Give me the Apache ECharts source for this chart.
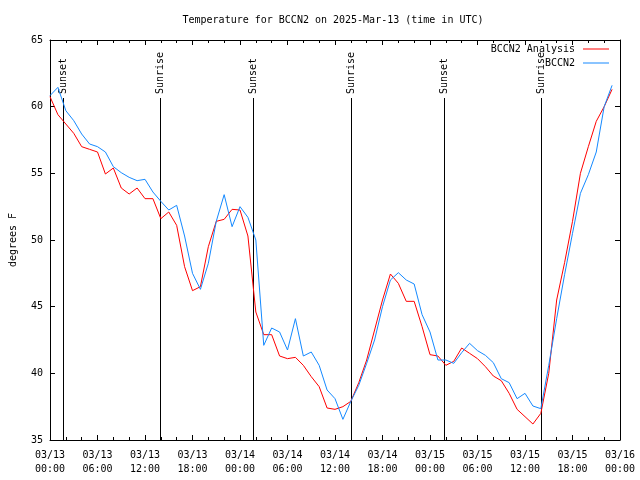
<!DOCTYPE html>
<html><head><meta charset="utf-8">
<script src="https://cdn.jsdelivr.net/npm/echarts@6/dist/echarts.min.js"></script>
<style>html,body{margin:0;padding:0;background:#fff}#c{width:640px;height:480px}</style>
</head><body><div id="c"></div>
<script>
const titleText = 'Temperature for BCCN2 on 2025-Mar-13 (time in UTC)';
const yAxisName = 'degrees F';
const seriesNames = ['BCCN2 Analysis', 'BCCN2'];
// hourly values, hour 0 = 03/13 00:00 UTC
const analysis = [
  60.75, 59.4, 58.7, 58.0, 57.0, 56.8, 56.6, 54.95, 55.4, 53.9, 53.45, 53.9,
  53.1, 53.1, 51.6, 52.1, 51.1, 48.0, 46.2, 46.5, 49.5, 51.4, 51.55, 52.3,
  52.25, 50.3, 44.6, 42.9, 42.9, 41.3, 41.1, 41.2, 40.6, 39.75, 39.0, 37.4,
  37.3, 37.5, 37.9, 39.3, 41.0, 43.25, 45.5, 47.45, 46.75, 45.4, 45.4, 43.5,
  41.4, 41.3, 40.6, 40.9, 41.9, 41.5, 41.1, 40.5, 39.8, 39.45, 38.5, 37.3,
  36.75, 36.2, 37.0, 40.0, 45.5, 48.3, 51.4, 55.0, 57.0, 58.9, 60.0, 61.3
];
const observed = [
  60.83, 61.45, 59.7, 58.95, 57.95, 57.2, 57.0, 56.6, 55.5, 55.05, 54.7, 54.45,
  54.55, 53.6, 52.9, 52.25, 52.6, 50.3, 47.5, 46.3, 48.25, 51.4, 53.4, 51.0,
  52.5, 51.7, 50.0, 42.1, 43.4, 43.1, 41.75, 44.1, 41.3, 41.6, 40.6, 38.75,
  38.1, 36.55, 37.9, 39.1, 40.75, 42.5, 45.0, 47.0, 47.55, 47.0, 46.7, 44.4,
  43.1, 41.0, 41.0, 40.75, 41.55, 42.25, 41.7, 41.35, 40.8, 39.6, 39.3, 38.1,
  38.5, 37.55, 37.35, 40.6, 44.1, 47.4, 50.5, 53.5, 54.9, 56.6, 60.0, 61.6
];
const xTickLabels = [
  '03/13\n00:00', '03/13\n06:00', '03/13\n12:00', '03/13\n18:00',
  '03/14\n00:00', '03/14\n06:00', '03/14\n12:00', '03/14\n18:00',
  '03/15\n00:00', '03/15\n06:00', '03/15\n12:00', '03/15\n18:00',
  '03/16\n00:00'
];
const sunTimes = [1.6, 13.87, 25.67, 37.97, 49.78, 61.97];
const sunLabels = ['Sunset', 'Sunrise', 'Sunset', 'Sunrise', 'Sunset', 'Sunrise'];
const yMin = 35, yMax = 65, yStep = 5;
const xMin = 0, xMax = 72, xStep = 6;

const FONT = 'DejaVu Sans Mono';
const chart = echarts.init(document.getElementById('c'), null, {renderer: 'canvas'});

function xAxisCfg(pos, showLabel) {
  return {
    type: 'value', position: pos, min: xMin, max: xMax, interval: xStep,
    axisLine: {show: true, onZero: false, lineStyle: {color: '#000', width: 1}},
    axisTick: {show: true, inside: true, length: 5, lineStyle: {color: '#000'}},
    minorTick: {show: true, splitNumber: 3, length: 3, lineStyle: {color: '#000'}},
    axisLabel: {
      show: showLabel, formatter: v => xTickLabels[Math.round((v - xMin) / xStep)],
      fontFamily: FONT, fontSize: 10, color: '#000', lineHeight: 14, margin: 8
    },
    splitLine: {show: false}
  };
}
function yAxisCfg(pos, showLabel) {
  const c = {
    type: 'value', position: pos, min: yMin, max: yMax, interval: yStep,
    axisLine: {show: true, onZero: false, lineStyle: {color: '#000', width: 1}},
    axisTick: {show: true, inside: true, length: 5, lineStyle: {color: '#000'}},
    axisLabel: {show: showLabel, fontFamily: FONT, fontSize: 10, color: '#000', margin: 7},
    splitLine: {show: false}
  };
  if (showLabel) {
    c.name = yAxisName;
    c.nameLocation = 'middle';
    c.nameGap = 32;
    c.nameTextStyle = {fontFamily: FONT, fontSize: 10, color: '#000'};
  }
  return c;
}
function legendCfg(name, top) {
  return {
    data: [name], right: 31, top: top, padding: 0, orient: 'vertical', align: 'right',
    itemWidth: 26, itemHeight: 10, icon: 'path://M0,0L26,0L26,1L0,1Z',
    textStyle: {fontFamily: FONT, fontSize: 10, color: '#000', padding: [0, 3, 0, 0]},
    itemStyle: {borderWidth: 0}, selectedMode: false
  };
}

chart.setOption({
  animation: false,
  backgroundColor: '#fff',
  title: {
    text: titleText, left: 333, top: 15, padding: 0, textAlign: 'center',
    textStyle: {fontFamily: FONT, fontSize: 10, fontWeight: 'normal', color: '#000'}
  },
  legend: [legendCfg(seriesNames[0], 44), legendCfg(seriesNames[1], 58)],
  grid: {left: 47, right: 20, top: 40, bottom: 40, containLabel: false},
  xAxis: [xAxisCfg('bottom', true), xAxisCfg('top', false)],
  yAxis: [yAxisCfg('left', true), yAxisCfg('right', false)],
  series: [
    {
      type: 'custom', name: 'sun', xAxisIndex: 0, yAxisIndex: 0, silent: true, z: 1,
      data: sunTimes.map(t => [t, yMin]),
      renderItem: function (params, api) {
        const p = api.coord([api.value(0), yMin]);
        const x = Math.round(p[0]) + 0.5;
        const lineTop = params.coordSys.y + 58;
        return {
          type: 'group', children: [
            {type: 'line', shape: {x1: x, y1: lineTop, x2: x, y2: p[1]},
             style: {stroke: '#000', lineWidth: 1}},
            {type: 'text', x: x, y: lineTop - 4, rotation: Math.PI / 2,
             style: {text: sunLabels[params.dataIndex], font: '10px ' + FONT, fill: '#000',
                     align: 'left', verticalAlign: 'middle'}}
          ]
        };
      }
    },
    {
      type: 'line', name: seriesNames[0], xAxisIndex: 0, yAxisIndex: 0,
      data: analysis.map((v, i) => [i, v]), showSymbol: false, symbol: 'none',
      lineStyle: {color: '#ff0000', width: 1}, itemStyle: {color: '#ff0000'}, z: 2
    },
    {
      type: 'line', name: seriesNames[1], xAxisIndex: 0, yAxisIndex: 0,
      data: observed.map((v, i) => [i, v]), showSymbol: false, symbol: 'none',
      lineStyle: {color: '#1489ff', width: 1}, itemStyle: {color: '#1489ff'}, z: 3
    }
  ]
});
</script></body></html>
